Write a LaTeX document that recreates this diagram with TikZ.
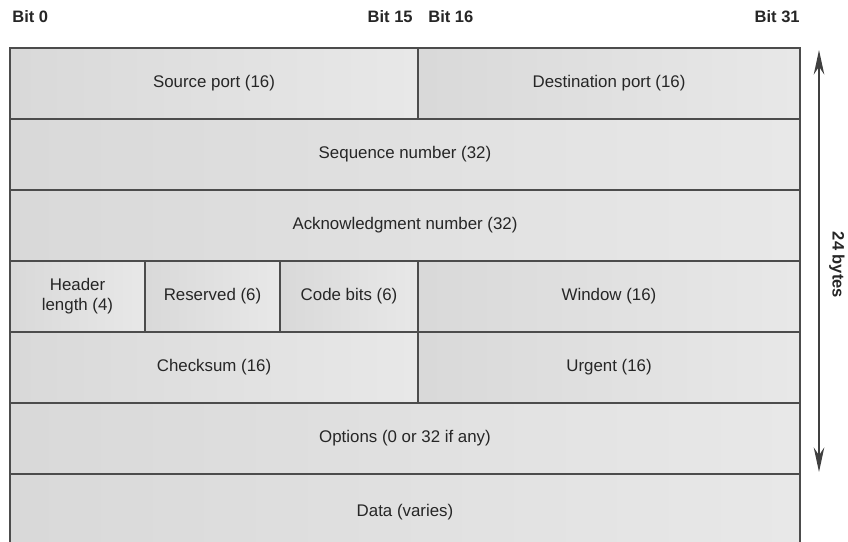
\documentclass[tikz,border=0pt]{standalone}
\usepackage{fontspec}
\setmainfont{Liberation Sans}
\usetikzlibrary{arrows.meta}

\tikzset{
	field/.style 2 args={draw=black!70,line width=1.1pt,left color=black!15,right color=black!9,
		anchor=north west,inner sep=0pt,outer sep=0pt,text=black!85,align=center,
		minimum width=#1*0.02cm,minimum height=#2*0.02cm,font=\fontsize{9.6}{11.5}\selectfont},
	bitlabel/.style={text=black!85,inner sep=0pt,font=\fontsize{9.4}{11}\selectfont\bfseries},
}

\begin{document}
\begin{tikzpicture}[x=0.02cm,y=-0.02cm]
	\useasboundingbox (0,0) rectangle (848,541);
	% bit positions
	\node[bitlabel,anchor=west] (b0) at (12,17) {Bit 0};
	\node[bitlabel,anchor=east] (b15) at (413,17) {Bit 15};
	\node[bitlabel,anchor=west] (b16) at (428,17) {Bit 16};
	\node[bitlabel,anchor=east] (b31) at (800,17) {Bit 31};
	% header fields
	\node[field={408}{71}] (srcport) at (10,48) {Source port (16)};
	\node[field={382}{71}] (dstport) at (418,48) {Destination port (16)};
	\node[field={790}{71}] (seqnum) at (10,119) {Sequence number (32)};
	\node[field={790}{71}] (acknum) at (10,190) {Acknowledgment number (32)};
	\node[field={135}{71}] (hdrlen) at (10,261) {Header\\length (4)};
	\node[field={135}{71}] (reserved) at (145,261) {Reserved (6)};
	\node[field={138}{71}] (codebits) at (280,261) {Code bits (6)};
	\node[field={382}{71}] (window) at (418,261) {Window (16)};
	\node[field={408}{71}] (checksum) at (10,332) {Checksum (16)};
	\node[field={382}{71}] (urgent) at (418,332) {Urgent (16)};
	\node[field={790}{71}] (options) at (10,403) {Options (0 or 32 if any)};
	\node[field={790}{76}] (data) at (10,474) {Data (varies)};
	% length arrow
	\coordinate (lentop) at (819,50);
	\coordinate (lenbot) at (819,472);
	\draw[black!75,line width=1pt,{Stealth[length=14pt,width=6pt]}-{Stealth[length=14pt,width=6pt]}] (lentop) -- (lenbot);
	\node[bitlabel,rotate=-90] (len) at (837,265) {24 bytes};
\end{tikzpicture}
\end{document}
